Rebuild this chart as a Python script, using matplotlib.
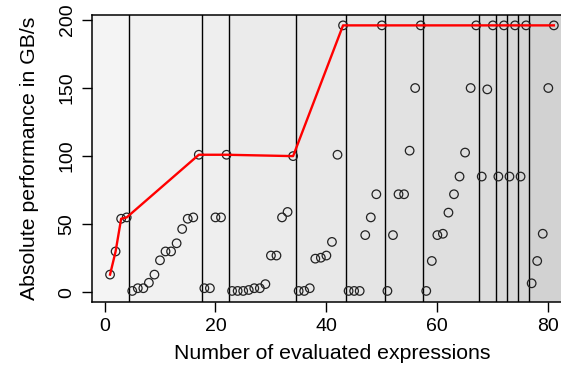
import matplotlib
matplotlib.use("Agg")
import matplotlib.pyplot as plt

plt.rcParams['font.family'] = ['Liberation Sans', 'DejaVu Sans']

# evaluated expressions (1..81) and their performance
expr_index = list(range(1, 82))
performance = [13, 30, 54, 55, 1, 3, 3, 7, 13, 23.5,
               30, 30, 36, 46.5, 54, 55, 101, 3, 3, 55,
               55, 101, 1, 1, 1, 1.7, 3, 3, 6, 27,
               27, 55, 59, 100, 1, 1, 3, 24.7, 25.4, 27,
               37, 101, 196, 1, 1, 1, 42, 55, 72, 196,
               1, 42, 72, 72, 104, 150, 196, 1, 23, 42,
               43, 58.5, 72, 85, 102.6, 150, 196, 85, 149, 196,
               85, 196, 85, 196, 85, 196, 6.6, 23, 43, 150,
               196]

# best-so-far line
best_x = [1, 2, 3, 4, 17, 22, 34, 43, 50, 57, 67, 70, 72, 74, 76, 81]
best_y = [13, 30, 54, 55, 101, 101, 100, 196, 196, 196, 196, 196, 196, 196, 196, 196]

# group boundaries (vertical separators)
boundaries = [4.5, 17.5, 22.5, 34.5, 43.5, 50.5, 57.5, 67.5, 70.5, 72.5, 74.5, 76.5]
band_grays = ['#f4f4f4', '#f1f1f1', '#eeeeee', '#ebebeb', '#e8e8e8', '#e5e5e5',
              '#e2e2e2', '#dfdfdf', '#dcdcdc', '#d9d9d9', '#d7d7d7', '#d5d5d5', '#d2d2d2']

xticks = [0, 20, 40, 60, 80]
yticks = [0, 50, 100, 150, 200]

W, H = 561, 379
fig = plt.figure(figsize=(W / 100, H / 100), dpi=100)
left, right, top, bottom = 92.3, 571.6, 15.3, 301.7
ax = fig.add_axes([left / W, 1 - bottom / H, (right - left) / W, (bottom - top) / H])

xmin, xmax = -2.2, 84.2
ymin, ymax = -6.9, 203.4
ax.set_xlim(xmin, xmax)
ax.set_ylim(ymin, ymax)

edges = [xmin] + boundaries + [xmax]
for i in range(len(edges) - 1):
    ax.axvspan(edges[i], edges[i + 1], color=band_grays[i], lw=0, zorder=0)
for b in boundaries:
    ax.axvline(b, color='black', lw=1.0, zorder=1)

ax.scatter(expr_index, performance, s=38, facecolors='none', edgecolors='#222222',
           linewidths=0.9, zorder=2)
ax.plot(best_x, best_y, color='#ff0000', lw=1.7, zorder=3)

ax.set_xticks(xticks)
ax.set_yticks(yticks)
ax.set_yticklabels([str(t) for t in yticks], rotation=90, va='center')
ax.tick_params(axis='both', direction='out', length=7, width=1, labelsize=14, pad=5)
for s in ax.spines.values():
    s.set_linewidth(1.1)

ax.set_xlabel('Number of evaluated expressions', fontsize=15.3, labelpad=6)
ax.set_ylabel('Absolute performance in GB/s', fontsize=15.3, labelpad=14)

fig.savefig('out.png', dpi=100)
